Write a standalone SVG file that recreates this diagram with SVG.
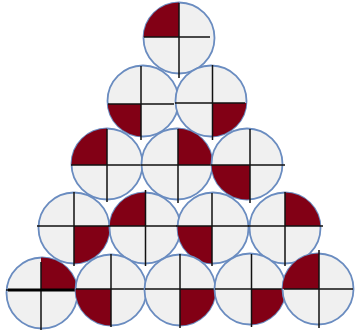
<svg xmlns="http://www.w3.org/2000/svg" width="355" height="334" viewBox="0 0 355 334">
<style>
.c{fill:#f0f0f0;stroke:#6a8cc0;stroke-width:1.8}
.q{fill:#820015}
.x{stroke:#111;stroke-width:1.5;fill:none}
</style>
<defs>
<clipPath id="k1"><circle cx="179" cy="38" r="35.5"/></clipPath>
<clipPath id="k2"><circle cx="143" cy="101" r="35.5"/></clipPath>
<clipPath id="k3"><circle cx="211" cy="101" r="35.5"/></clipPath>
<clipPath id="k4"><circle cx="107" cy="164" r="35.5"/></clipPath>
<clipPath id="k5"><circle cx="177" cy="164" r="35.5"/></clipPath>
<clipPath id="k6"><circle cx="247" cy="164" r="35.5"/></clipPath>
<clipPath id="k7"><circle cx="74" cy="228" r="35.5"/></clipPath>
<clipPath id="k8"><circle cx="145" cy="228" r="35.5"/></clipPath>
<clipPath id="k9"><circle cx="213" cy="228" r="35.5"/></clipPath>
<clipPath id="k10"><circle cx="285" cy="228" r="35.5"/></clipPath>
<clipPath id="k11"><circle cx="42" cy="293" r="35.5"/></clipPath>
<clipPath id="k12"><circle cx="111" cy="290" r="35.5"/></clipPath>
<clipPath id="k13"><circle cx="180" cy="290" r="35.5"/></clipPath>
<clipPath id="k14"><circle cx="250" cy="289" r="35.5"/></clipPath>
<clipPath id="k15"><circle cx="318" cy="289" r="35.5"/></clipPath>
</defs>

<g id="n1"><circle class="c" cx="179" cy="38" r="35.5"/><rect class="q" x="140" y="0" width="39" height="37" clip-path="url(#k1)"/><path class="x" d="M179 3V78M144 37H210"/></g>
<g id="n2"><circle class="c" cx="143" cy="101" r="35.5"/><rect class="q" x="100" y="104" width="41" height="40" clip-path="url(#k2)"/><path class="x" d="M141 66V140M108 104H174"/></g>
<g id="n3"><circle class="c" cx="211" cy="101" r="35.5"/><rect class="q" x="212.5" y="103" width="40" height="40" clip-path="url(#k3)"/><path class="x" d="M212.5 65V140M175 103H245"/></g>
<g id="n4"><circle class="c" cx="107" cy="164" r="35.5"/><rect class="q" x="65" y="120" width="42" height="45" clip-path="url(#k4)"/><path class="x" d="M107 129V202M71 165H143"/></g>
<g id="n5"><circle class="c" cx="177" cy="164" r="35.5"/><rect class="q" x="178" y="120" width="40" height="45" clip-path="url(#k5)"/><path class="x" d="M178 129V203M141 165H213"/></g>
<g id="n6"><circle class="c" cx="247" cy="164" r="35.5"/><rect class="q" x="205" y="165" width="45" height="40" clip-path="url(#k6)"/><path class="x" d="M250 129V203M211 165H285"/></g>
<g id="n7"><circle class="c" cx="74" cy="228" r="35.5"/><rect class="q" x="74" y="226" width="40" height="40" clip-path="url(#k7)"/><path class="x" d="M74 192V266M37 226H110"/></g>
<g id="n8"><circle class="c" cx="145" cy="228" r="35.5"/><rect class="q" x="105" y="188" width="40.5" height="38" clip-path="url(#k8)"/><path class="x" d="M145.5 190V266M108 226H180"/></g>
<g id="n9"><circle class="c" cx="213" cy="228" r="35.5"/><rect class="q" x="170" y="226" width="42" height="40" clip-path="url(#k9)"/><path class="x" d="M212 193V266M176 226H250"/></g>
<g id="n10"><circle class="c" cx="285" cy="228" r="35.5"/><rect class="q" x="285" y="188" width="40" height="38" clip-path="url(#k10)"/><path class="x" d="M285 192V266M248 226H323"/></g>
<g id="n11"><circle class="c" cx="42" cy="293" r="35.5"/><rect class="q" x="41" y="250" width="40" height="40" clip-path="url(#k11)"/><path class="x" d="M41 262V330M6 290H80"/><path d="M8 290H86" stroke="#000" stroke-width="3"/></g>
<g id="n12"><circle class="c" cx="111" cy="290" r="35.5"/><rect class="q" x="70" y="289" width="41" height="40" clip-path="url(#k12)"/><path class="x" d="M111 254V327M76 289H146"/></g>
<g id="n13"><circle class="c" cx="180" cy="290" r="35.5"/><rect class="q" x="180" y="289" width="40" height="40" clip-path="url(#k13)"/><path class="x" d="M180 254V328M145 289H216"/></g>
<g id="n14"><circle class="c" cx="250" cy="289" r="35.5"/><rect class="q" x="251.5" y="289" width="40" height="40" clip-path="url(#k14)"/><path class="x" d="M251.5 254V327M215 289H285"/></g>
<g id="n15"><circle class="c" cx="318" cy="289" r="35.5"/><rect class="q" x="280" y="250" width="39" height="39" clip-path="url(#k15)"/><path class="x" d="M319 250V328M284 289H353"/></g>
<g id="connectors"/>
</svg>
